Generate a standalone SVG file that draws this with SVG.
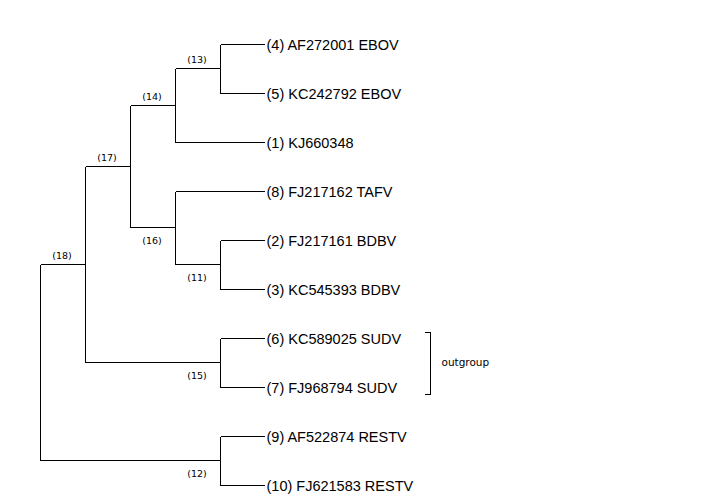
<svg xmlns="http://www.w3.org/2000/svg" width="712" height="500" viewBox="0 0 712 500">
  <style>
    .edge { stroke: #000; stroke-width: 1; fill: none; shape-rendering: crispEdges; }
    .leaf { font-family: "Liberation Sans", Arial, sans-serif; font-size: 14.5px; fill: #000; }
    .inner { font-family: "DejaVu Sans", Verdana, sans-serif; font-size: 9.5px; fill: #000; text-anchor: middle; }
    .note { font-family: "DejaVu Sans", Verdana, sans-serif; font-size: 10.5px; fill: #000; }
  </style>
  <rect width="712" height="500" fill="#fff"/>

  <!-- tree branches (rectangular cladogram) -->
  <g id="connectors" class="edge">
    <!-- root (18 + 12) -->
    <path d="M40.5 264.5 V460.5"/>
    <path d="M40.5 264.5 H85.5"/>
    <path d="M40.5 460.5 H220.5"/>
    <!-- node 18 -->
    <path d="M85.5 166.5 V362.5"/>
    <path d="M85.5 166.5 H130.5"/>
    <path d="M85.5 362.5 H220.5"/>
    <!-- node 17 -->
    <path d="M130.5 105.5 V227.5"/>
    <path d="M130.5 105.5 H175.5"/>
    <path d="M130.5 227.5 H175.5"/>
    <!-- node 14 -->
    <path d="M175.5 68.5 V142.5"/>
    <path d="M175.5 68.5 H220.5"/>
    <path d="M175.5 142.5 H265"/>
    <!-- node 13 -->
    <path d="M220.5 44.5 V93.5"/>
    <path d="M220.5 44.5 H265"/>
    <path d="M220.5 93.5 H265"/>
    <!-- node 16 -->
    <path d="M175.5 191.5 V264.5"/>
    <path d="M175.5 191.5 H265"/>
    <path d="M175.5 264.5 H220.5"/>
    <!-- node 11 -->
    <path d="M220.5 240.5 V289.5"/>
    <path d="M220.5 240.5 H265"/>
    <path d="M220.5 289.5 H265"/>
    <!-- node 15 -->
    <path d="M220.5 338.5 V387.5"/>
    <path d="M220.5 338.5 H265"/>
    <path d="M220.5 387.5 H265"/>
    <!-- node 12 -->
    <path d="M220.5 436.5 V485.5"/>
    <path d="M220.5 436.5 H265"/>
    <path d="M220.5 485.5 H265"/>
    <!-- outgroup bracket -->
    <path d="M425 332.5 H430.5 V394.5 H425"/>
  </g>

  <!-- internal node labels -->
  <g id="n18"><text class="inner" x="62" y="259">(18)</text></g>
  <g id="n17"><text class="inner" x="107" y="160.5">(17)</text></g>
  <g id="n14"><text class="inner" x="152" y="100">(14)</text></g>
  <g id="n13"><text class="inner" x="197" y="63">(13)</text></g>
  <g id="n16"><text class="inner" x="152" y="243.5">(16)</text></g>
  <g id="n11"><text class="inner" x="197" y="280.5">(11)</text></g>
  <g id="n15"><text class="inner" x="197" y="378.5">(15)</text></g>
  <g id="n12"><text class="inner" x="197" y="476.5">(12)</text></g>

  <!-- leaves -->
  <g id="leaf4"><text class="leaf" x="266.5" y="50">(4) AF272001 EBOV</text></g>
  <g id="leaf5"><text class="leaf" x="266.5" y="99">(5) KC242792 EBOV</text></g>
  <g id="leaf1"><text class="leaf" x="266.5" y="148">(1) KJ660348</text></g>
  <g id="leaf8"><text class="leaf" x="266.5" y="197">(8) FJ217162 TAFV</text></g>
  <g id="leaf2"><text class="leaf" x="266.5" y="246">(2) FJ217161 BDBV</text></g>
  <g id="leaf3"><text class="leaf" x="266.5" y="295">(3) KC545393 BDBV</text></g>
  <g id="leaf6"><text class="leaf" x="266.5" y="344">(6) KC589025 SUDV</text></g>
  <g id="leaf7"><text class="leaf" x="266.5" y="393">(7) FJ968794 SUDV</text></g>
  <g id="leaf9"><text class="leaf" x="266.5" y="442">(9) AF522874 RESTV</text></g>
  <g id="leaf10"><text class="leaf" x="266.5" y="491">(10) FJ621583 RESTV</text></g>

  <!-- clade annotation -->
  <g id="outgroup"><text class="note" x="441.5" y="366">outgroup</text></g>
</svg>
